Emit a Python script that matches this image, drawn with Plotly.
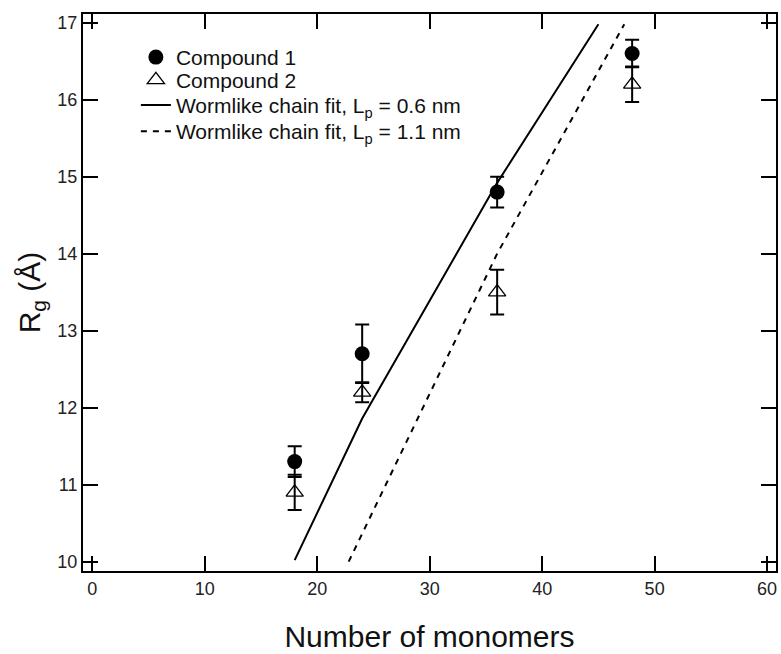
import plotly.graph_objects as go

# Data
monomers = [18, 24, 36, 48]
rg_compound1 = [11.3, 12.7, 14.8, 16.6]
err_compound1 = [0.2, 0.38, 0.2, 0.18]
rg_compound2 = [10.9, 12.2, 13.5, 16.2]
err_compound2 = [0.23, 0.13, 0.29, 0.23]

fit06_x = [18, 24, 36, 45]
fit06_y = [10.02, 11.86, 14.92, 16.98]
fit11_x = [22.8, 36, 47.3]
fit11_y = [10.0, 14.0, 16.98]

x_ticks = [0, 10, 20, 30, 40, 50, 60]
y_ticks = [10, 11, 12, 13, 14, 15, 16, 17]

FONT = "Liberation Sans, Arial, sans-serif"

fig = go.Figure()
fig.add_trace(go.Scatter(
    x=monomers, y=rg_compound1, mode="markers", name="Compound 1",
    marker=dict(symbol="circle", size=15, color="black"),
    error_y=dict(type="data", array=err_compound1, thickness=2, width=7, color="black"),
    legend="legend",
))
fig.add_trace(go.Scatter(
    x=monomers, y=rg_compound2, mode="markers", name="Compound 2",
    marker=dict(symbol="triangle-up-open", size=15, color="black", line=dict(width=1.3)),
    error_y=dict(type="data", array=err_compound2, thickness=2, width=7, color="black"),
    legend="legend2",
))
fig.add_trace(go.Scatter(
    x=fit06_x, y=fit06_y, mode="lines",
    name="Wormlike chain fit, L<sub>p</sub> = 0.6 nm",
    line=dict(color="black", width=2),
    legend="legend3",
))
fig.add_trace(go.Scatter(
    x=fit11_x, y=fit11_y, mode="lines",
    name="Wormlike chain fit, L<sub>p</sub> = 1.1 nm",
    line=dict(color="black", width=2, dash="6px,6px"),
    legend="legend4",
))

axis_common = dict(
    showline=True, linecolor="black", linewidth=2, mirror="allticks",
    ticks="inside", ticklen=15, tickwidth=2, tickcolor="black",
    showgrid=False, zeroline=False,
    tickfont=dict(family=FONT, size=18, color="#222"),
)

def leg(y):
    return dict(
        x=0.0763, y=y, xanchor="left", yanchor="middle",
        bgcolor="rgba(0,0,0,0)", borderwidth=0,
        font=dict(family=FONT, size=21, color="#111"),
        itemwidth=30,
    )

fig.update_layout(
    width=781, height=654,
    margin=dict(l=83, r=3, t=14, b=83),
    paper_bgcolor="white", plot_bgcolor="white",
    font=dict(family=FONT, color="black"),
    showlegend=True,
    legend=leg(0.922),
    legend2=leg(0.881),
    legend3=leg(0.836),
    legend4=leg(0.789),
    xaxis=dict(
        range=[-0.82, 60.79], tickvals=x_ticks,
        title=dict(text="Number of monomers", font=dict(family=FONT, size=30, color="#111"), standoff=28),
        **axis_common,
    ),
    yaxis=dict(
        range=[9.879, 17.113], tickvals=y_ticks,
        title=dict(text="R<sub>g</sub> (Å)", font=dict(family=FONT, size=30, color="#111"), standoff=8),
        **axis_common,
    ),
)

fig.write_html("out.html")
